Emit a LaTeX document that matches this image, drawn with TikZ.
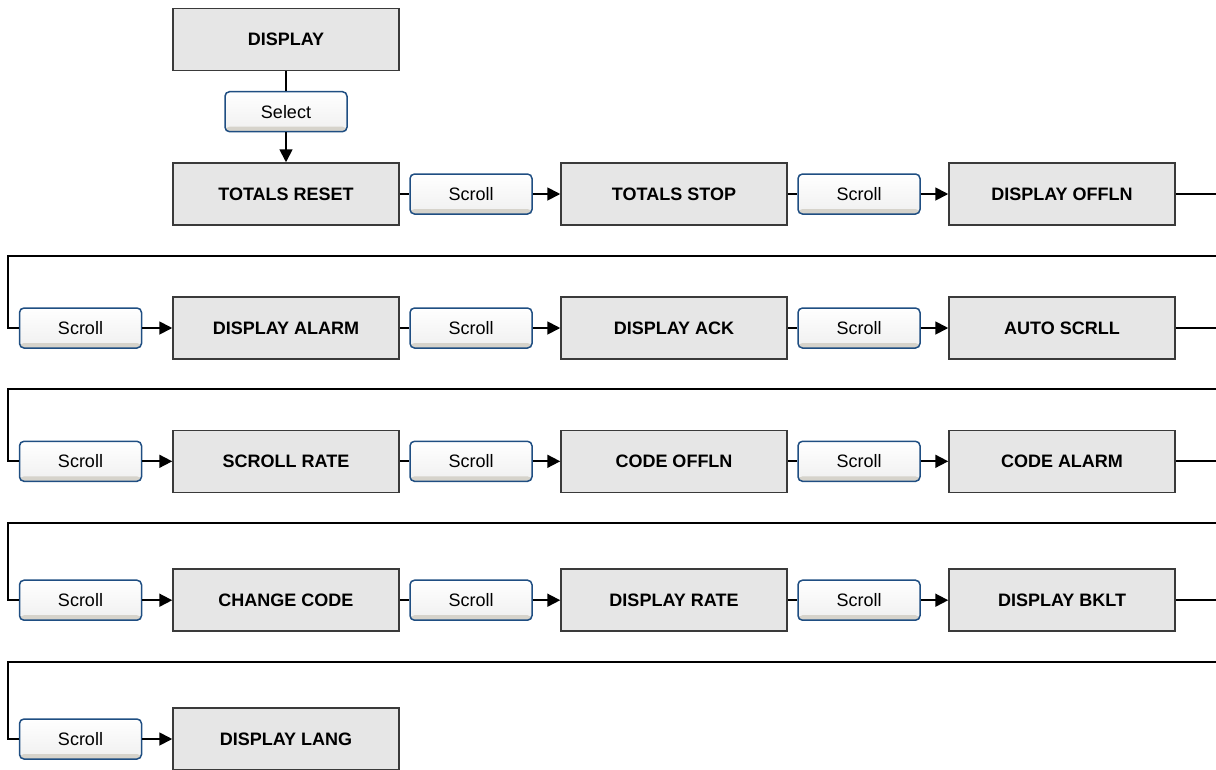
\documentclass[tikz,border=0pt]{standalone}
\usepackage{fontspec}
\setmainfont{Liberation Sans}
\usetikzlibrary{arrows.meta}
\definecolor{boxfill}{HTML}{E6E6E6}
\definecolor{boxline}{HTML}{3A3A3A}
\definecolor{btnline}{HTML}{1F4E82}
\definecolor{btnstrip}{HTML}{D6D3CB}
\begin{document}
\begin{tikzpicture}[x=1pt,y=-1pt,
  menubox/.style={draw=boxline, line width=1.5pt, fill=boxfill, minimum width=226pt, minimum height=62pt,
     inner sep=0pt, font=\fontsize{18}{21}\selectfont\bfseries},
  btn/.style={draw=btnline, line width=1.5pt, rounded corners=4.5pt, minimum width=122pt, minimum height=40pt,
     inner sep=0pt, top color=white, bottom color=black!6, font=\fontsize{18}{21}\selectfont,
     path picture={\fill[btnstrip] ([yshift=5pt]path picture bounding box.south west) rectangle (path picture bounding box.south east);}},
  conn/.style={line width=1.8pt, draw=black},
  arr/.style={conn, -{Triangle[length=13pt,width=13pt]}}
]
\useasboundingbox (0,0) rectangle (1216,769);

% top
\node[menubox] (disp) at (286,39.7) {DISPLAY};
\node[btn] (sel) at (286,111.7) {Select};

% row 1
\node[menubox] (r1a) at (286,194) {TOTALS RESET};
\node[btn] (r1s1) at (471,194) {Scroll};
\node[menubox] (r1b) at (674,194) {TOTALS STOP};
\node[btn] (r1s2) at (859,194) {Scroll};
\node[menubox] (r1c) at (1062,194) {DISPLAY OFFLN};

% row 2
\node[btn] (r2s0) at (80.5,328) {Scroll};
\node[menubox] (r2a) at (286,328) {DISPLAY ALARM};
\node[btn] (r2s1) at (471,328) {Scroll};
\node[menubox] (r2b) at (674,328) {DISPLAY ACK};
\node[btn] (r2s2) at (859,328) {Scroll};
\node[menubox] (r2c) at (1062,328) {AUTO SCRLL};

% row 3
\node[btn] (r3s0) at (80.5,461.3) {Scroll};
\node[menubox] (r3a) at (286,461.3) {SCROLL RATE};
\node[btn] (r3s1) at (471,461.3) {Scroll};
\node[menubox] (r3b) at (674,461.3) {CODE OFFLN};
\node[btn] (r3s2) at (859,461.3) {Scroll};
\node[menubox] (r3c) at (1062,461.3) {CODE ALARM};

% row 4
\node[btn] (r4s0) at (80.5,600.2) {Scroll};
\node[menubox] (r4a) at (286,600.2) {CHANGE CODE};
\node[btn] (r4s1) at (471,600.2) {Scroll};
\node[menubox] (r4b) at (674,600.2) {DISPLAY RATE};
\node[btn] (r4s2) at (859,600.2) {Scroll};
\node[menubox] (r4c) at (1062,600.2) {DISPLAY BKLT};

% row 5
\node[btn] (r5s0) at (80.5,739) {Scroll};
\node[menubox] (r5a) at (286,739) {DISPLAY LANG};

% edge coordinates
\coordinate (e1) at (1216,194);
\coordinate (f1) at (1216,255.7);
\coordinate (e2) at (1216,328);
\coordinate (f2) at (1216,389.3);
\coordinate (e3) at (1216,461.3);
\coordinate (f3) at (1216,523.3);
\coordinate (e4) at (1216,600.2);
\coordinate (f4) at (1216,661.7);

% connectors
\draw[conn] (disp) -- (sel);
\draw[arr] (sel) -- (r1a);
\foreach \r in {1,2,3,4}{
  \draw[conn] (r\r a.east) -- (r\r s1.west);
  \draw[arr] (r\r s1.east) -- (r\r b.west);
  \draw[conn] (r\r b.east) -- (r\r s2.west);
  \draw[arr] (r\r s2.east) -- (r\r c.west);
  \draw[conn] (r\r c.east) -- (e\r);
}
\foreach \r [evaluate=\r as \n using int(\r+1)] in {1,2,3,4}{
  \draw[conn] (f\r) -- (8,0 |- f\r) -- (8,0 |- r\n s0.west) -- (r\n s0.west);
  \draw[arr] (r\n s0.east) -- (r\n a.west);
}
\end{tikzpicture}
\end{document}
